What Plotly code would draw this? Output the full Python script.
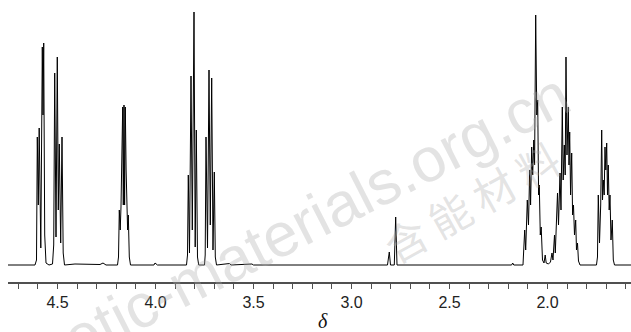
import plotly.graph_objects as go

# 1H NMR spectrum: chemical shift (ppm) and height (arb. units)
shift_a = [4.7526, 4.615, 4.6072, 4.6031, 4.5980, 4.5934, 4.5852, 4.5776, 4.5740, 4.5704, 4.5653, 4.5587, 4.5434]
int_a   = [0, 0, 5, 128, 60, 137, 17, 218, 150, 222, 30, 2, 0]

shift_b = [4.5255, 4.5194, 4.5143, 4.5077, 4.5011, 4.4960, 4.4909, 4.4837, 4.4771, 4.4710, 4.4643]
int_b   = [1, 20, 192, 28, 208, 55, 121, 22, 128, 12, 0]

shift_noise1 = [4.4108, 4.2832, 4.2679, 4.2526]
int_noise1   = [1, 0.5, 2, 0]

shift_c = [4.1939, 4.1888, 4.1847, 4.1801, 4.1761, 4.1720, 4.1674, 4.1643, 4.1608, 4.1577,
           4.1541, 4.1500, 4.1455, 4.1424, 4.1388, 4.1337, 4.1276]
int_c   = [0, 8, 55, 35, 58, 100, 158, 60, 160, 60, 158, 95, 57, 35, 50, 8, 0]

shift_noise2 = [4.0080, 4.0026, 3.9900]
int_noise2   = [0, 2, 0]

shift_d1 = [3.8419, 3.8368, 3.8327, 3.8266, 3.8189, 3.8123, 3.8036, 3.7975, 3.7919, 3.7858, 3.7797]
int_d1   = [0, 10, 90, 12, 189, 35, 253, 18, 135, 8, 0]

shift_d2 = [3.7501, 3.7465, 3.7424, 3.7347, 3.7271, 3.7205, 3.7133, 3.7067, 3.7000, 3.6949, 3.6888]
int_d2   = [0, 10, 128, 17, 195, 40, 187, 15, 93, 8, 0]

shift_noise3 = [3.6220, 3.6150, 3.5080, 3.5000]
int_noise3   = [1.5, 0, 1, 0]

shift_e = [2.8164, 2.8072, 2.8011, 2.7817, 2.7746, 2.7679]
int_e   = [0, 13, 0, 0, 48, 0]

shift_noise4 = [2.1830, 2.1776, 2.1720]
int_noise4   = [0, 2, 0]

shift_f = [2.1251, 2.1164, 2.1113, 2.1031, 2.0970, 2.0909, 2.0863, 2.0807, 2.0756, 2.0700,
           2.0659, 2.0603, 2.0547, 2.0501, 2.0455, 2.0419, 2.0368, 2.0322, 2.0256, 2.0179,
           2.0118, 2.0067, 1.9950, 1.9848, 1.9771, 1.9720, 1.9643, 1.9603]
int_f   = [0, 35, 15, 65, 40, 95, 60, 118, 90, 125,
           100, 250, 150, 165, 70, 80, 30, 38, 5, 2,
           10, 2, 1, 3, 12, 5, 30, 12]

shift_g = [1.9490, 1.9439, 1.9363, 1.9312, 1.9245, 1.9200, 1.9143, 1.9097, 1.9057, 1.9006,
           1.8939, 1.8904, 1.8868, 1.8822, 1.8766, 1.8720, 1.8674, 1.8623, 1.8562, 1.8521,
           1.8470, 1.8419, 1.8342]
int_g   = [72, 40, 92, 55, 158, 85, 120, 90, 208, 110,
           158, 100, 133, 70, 112, 50, 60, 30, 45, 15,
           22, 4, 0]

shift_h = [1.7501, 1.7450, 1.7409, 1.7347, 1.7286, 1.7235, 1.7194, 1.7154, 1.7108, 1.7067,
           1.7026, 1.6980, 1.6939, 1.6899, 1.6853, 1.6812, 1.6761, 1.6695, 1.6643, 1.6582, 1.5740]
int_h   = [0, 8, 70, 22, 60, 135, 65, 85, 70, 118,
           95, 122, 70, 100, 55, 70, 25, 45, 5, 0, 0]

major_ticks = [4.5, 4.0, 3.5, 3.0, 2.5, 2.0]
major_labels = ["4.5", "4.0", "3.5", "3.0", "2.5", "2.0"]

watermark_chars = ["含", "能", "材", "料"]

shift = (shift_a + shift_b + shift_noise1 + shift_c + shift_noise2 + shift_d1 + shift_d2
         + shift_noise3 + shift_e + shift_noise4 + shift_f + shift_g + shift_h)
intensity = (int_a + int_b + int_noise1 + int_c + int_noise2 + int_d1 + int_d2
             + int_noise3 + int_e + int_noise4 + int_f + int_g + int_h)

W, H = 631, 332
ML, MR, MT, MB = 8, 0, 5, 50
PW, PH = W - ML - MR, H - MT - MB


def px(xp):
    return (xp - ML) / PW


def py(yp):
    return (H - MB - yp) / PH


fig = go.Figure()
fig.add_trace(go.Scatter(x=shift, y=intensity, mode="lines",
                         line=dict(color="black", width=1), hoverinfo="skip",
                         showlegend=False))

axis_grey = "#505050"
fig.update_layout(
    width=W, height=H,
    margin=dict(l=ML, r=MR, t=MT, b=MB),
    paper_bgcolor="white", plot_bgcolor="white",
    xaxis=dict(
        range=[4.7526, 1.574], showgrid=False, zeroline=False,
        showline=True, linecolor=axis_grey, linewidth=2,
        tickmode="array", tickvals=major_ticks, ticktext=major_labels,
        ticks="outside", ticklen=5, tickwidth=1, tickcolor=axis_grey,
        minor=dict(dtick=0.1, tick0=0, ticks="outside", ticklen=5,
                   tickwidth=1, tickcolor=axis_grey, showgrid=False),
        tickfont=dict(family="Liberation Sans, Arial, sans-serif", size=16, color="#222"),
    ),
    yaxis=dict(range=[-17, 260], visible=False, showgrid=False, zeroline=False),
    font=dict(family="Liberation Sans, Arial, sans-serif"),
)

# axis title
fig.add_annotation(text="<i>δ</i>", xref="paper", yref="paper", x=px(323), y=py(321),
                   xanchor="center", yanchor="middle", showarrow=False,
                   font=dict(family="Liberation Serif, Times New Roman, serif", size=20, color="#111"))

# faint watermark seen in the picture
wm_color = "rgba(170,170,170,0.33)"
fig.add_annotation(text="energetic-materials.org.cn", xref="paper", yref="paper",
                   x=px(245), y=py(252), xanchor="center", yanchor="middle",
                   textangle=-27, showarrow=False,
                   font=dict(family="Liberation Sans, Arial, sans-serif", size=62, color=wm_color))
wm_pos = [(405, 238), (449, 213), (493, 188), (537, 163)]
for ch, (cx, cy) in zip(watermark_chars, wm_pos):
    fig.add_annotation(text=ch, xref="paper", yref="paper", x=px(cx), y=py(cy),
                       xanchor="center", yanchor="middle", textangle=-29, showarrow=False,
                       font=dict(family="Noto Sans CJK SC, sans-serif", size=42, color=wm_color))

fig.write_html("out.html", config={"displayModeBar": False},
               post_script="document.body.style.margin='0';document.body.style.overflow='hidden';")
